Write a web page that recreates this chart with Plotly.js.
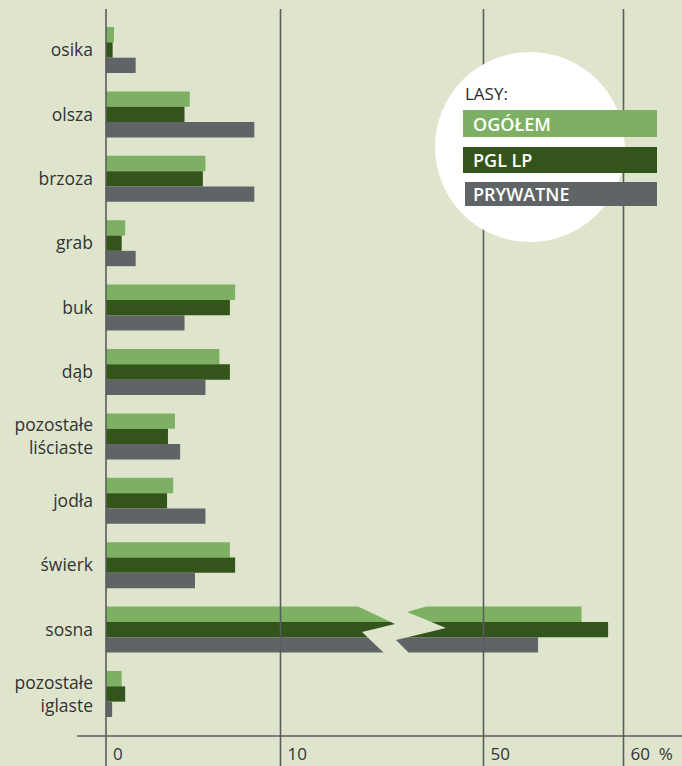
<!DOCTYPE html>
<html><head><meta charset="utf-8">
<script src="https://cdn.plot.ly/plotly-3.0.1.min.js"></script>
<style>html,body{margin:0;padding:0;background:#dfe5cd}</style>
</head><body><div id="chart" style="width:682px;height:766px"></div>
<script>
// ---- data ----
const categories = ['osika','olsza','brzoza','grab','buk','dąb','pozostałe<br>liściaste','jodła','świerk','sosna','pozostałe<br>iglaste'];
const seriesNames = ['OGÓŁEM','PGL LP','PRYWATNE'];
const ogolem   = [0.46, 4.8, 5.7, 1.1, 7.4, 6.5, 3.95, 3.85, 7.1, 57.0, 0.9];
const pglLp    = [0.38, 4.5, 5.55, 0.9, 7.1, 7.1, 3.55, 3.5, 7.4, 58.9, 1.1];
const prywatne = [1.7, 8.5, 8.5, 1.7, 4.5, 5.7, 4.25, 5.7, 5.1, 53.9, 0.35];
const xTickVals1 = [0, 10];
const xTickText1 = ['0', '10'];
const xTickVals2 = [50, 60];
const xTickText2 = ['50', '60\u00a0\u00a0%'];
const legendTitle = 'LASY:';

// ---- style ----
const W = 682, H = 766;
const M = {l: 96, r: 0, t: 9, b: 30};
const PW = W - M.l - M.r, PH = H - M.t - M.b;
const px = v => (v - M.l) / PW;
const py = v => (H - M.b - v) / PH;
const colors = ['#7db062', '#33541a', '#5f6467'];
const bg = '#dfe5cd';
const gridColor = '#5a5d5a';
const font = 'Open Sans, Noto Sans, sans-serif';
const splitPx = 400;

const traces = [];
const series = [ogolem, pglLp, prywatne];
['x', 'x2'].forEach(xa => {
  series.forEach((vals, i) => {
    traces.push({
      type: 'bar', orientation: 'h', x: vals, y: categories,
      xaxis: xa, yaxis: 'y', name: seriesNames[i],
      marker: {color: colors[i], line: {width: 0}}, hoverinfo: 'skip'
    });
  });
});

const shapes = [];
// gridlines
xTickVals1.forEach(v => shapes.push({type: 'line', xref: 'x', yref: 'paper', x0: v, x1: v, y0: py(H + 2), y1: 1, line: {color: gridColor, width: 1.6}, layer: 'above'}));
xTickVals2.forEach(v => shapes.push({type: 'line', xref: 'x2', yref: 'paper', x0: v, x1: v, y0: py(H + 2), y1: 1, line: {color: gridColor, width: 1.6}, layer: 'above'}));
// axis line
shapes.push({type: 'line', xref: 'paper', yref: 'paper', x0: px(77), x1: px(W + 2), y0: py(736), y1: py(736), line: {color: gridColor, width: 1.6}, layer: 'above'});
// axis break zigzag
const zz = [[348, 602], [357, 606], [395, 624], [362, 632], [384, 653], [388, 657], [413, 657], [409, 653], [396, 640], [446, 628], [407, 612], [428, 606], [442, 602]];
shapes.push({type: 'path', xref: 'paper', yref: 'paper', layer: 'above',
  path: 'M' + zz.map(p => px(p[0]) + ',' + py(p[1])).join('L') + 'Z',
  fillcolor: bg, line: {width: 0}});
// legend circle
shapes.push({type: 'circle', xref: 'paper', yref: 'paper', x0: px(435), x1: px(625), y0: py(242), y1: py(52), fillcolor: '#ffffff', line: {width: 0}, layer: 'above'});
const boxes = [[463, 110, 137], [463, 147, 173], [465, 182, 206]];
const annotations = [{xref: 'paper', yref: 'paper', x: px(463), y: py(93), xanchor: 'left', yanchor: 'middle', text: legendTitle, showarrow: false, font: {family: font, size: 17, color: '#2b2b2b'}}];
boxes.forEach((b, i) => {
  shapes.push({type: 'rect', xref: 'paper', yref: 'paper', x0: px(b[0]), x1: px(657), y0: py(b[2]), y1: py(b[1]), fillcolor: colors[i], line: {width: 0}, layer: 'above'});
  annotations.push({xref: 'paper', yref: 'paper', x: px(471), y: py((b[1] + b[2]) / 2), xanchor: 'left', yanchor: 'middle', text: seriesNames[i], showarrow: false, font: {family: font, size: 18, weight: 600, color: '#ffffff'}});
});

const d1 = (splitPx - M.l) / PW;
const xTickCommon = {showgrid: false, zeroline: false, showline: false, ticks: '', ticklabelposition: 'outside right',
  ticklabelstandoff: 6, ticklabelshift: 7, tickfont: {size: 17, color: '#333333'}};
const layout = {
  width: W, height: H, margin: M,
  paper_bgcolor: bg, plot_bgcolor: bg,
  showlegend: false, barmode: 'group', bargap: 0.286, bargroupgap: 0,
  font: {family: font, color: '#333333'},
  xaxis: Object.assign({domain: [0, d1], range: [(M.l - 106) / 17.45, (splitPx - 106) / 17.45], anchor: 'y',
    tickmode: 'array', tickvals: xTickVals1, ticktext: xTickText1}, xTickCommon),
  xaxis2: Object.assign({domain: [d1, 1], range: [50 - (483.5 - splitPx) / 14, 50 + (W - 483.5) / 14], anchor: 'y',
    tickmode: 'array', tickvals: xTickVals2, ticktext: xTickText2}, xTickCommon),
  yaxis: {type: 'category', categoryorder: 'array', categoryarray: categories, range: [10 + 42 / 64.4, -41 / 64.4],
    anchor: 'x', showgrid: false, zeroline: false, showline: false, ticks: '', ticklabelstandoff: 2,
    tickfont: {size: 17.5, color: '#333333'}},
  shapes: shapes, annotations: annotations
};
Plotly.newPlot('chart', traces, layout, {displayModeBar: false, staticPlot: true});
</script></body></html>
